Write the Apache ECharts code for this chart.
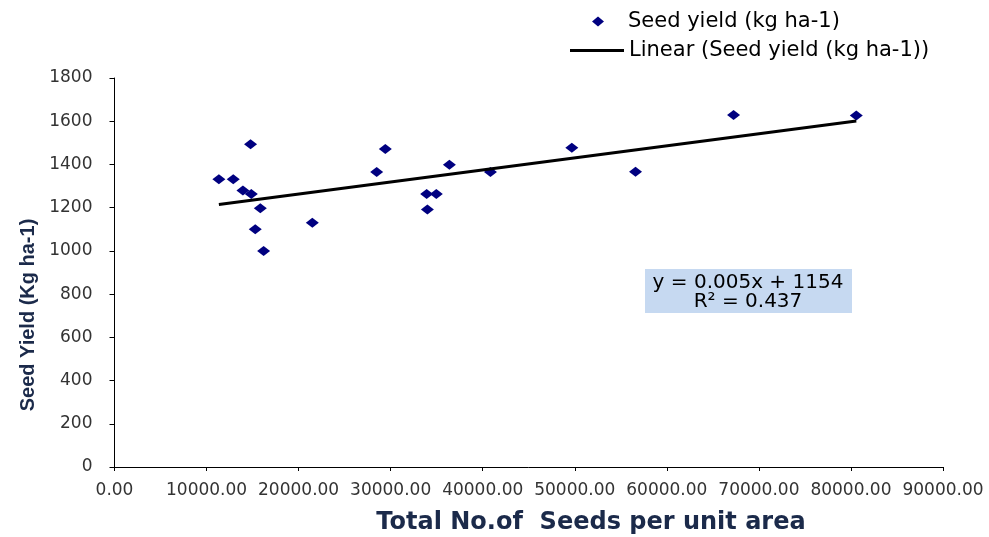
<!DOCTYPE html>
<html>
<head>
<meta charset="utf-8">
<script src="https://cdn.jsdelivr.net/npm/echarts@6/dist/echarts.min.js"></script>
<style>html,body{margin:0;padding:0;background:#fff}#c{width:989px;height:537px}</style>
</head>
<body>
<div id="c"></div>
<script>
// Data
const seedsPerArea = [11340, 12900, 13950, 14860, 14780, 15840, 15290, 16200, 21490, 28480, 29420, 33910, 33990, 34960, 36380, 40840, 49680, 56600, 67250, 80580];
const seedYield    = [1331, 1331, 1279, 1263, 1494, 1197, 1100, 1000, 1130, 1365, 1471, 1263, 1191, 1263, 1399, 1365, 1477, 1366, 1629, 1626];
const xTicks = { min: 0, max: 90000, interval: 10000 };
const yTicks = { min: 0, max: 1800, interval: 200 };
const seriesName = 'Seed yield (kg ha-1)';
const trendName = 'Linear (Seed yield (kg ha-1))';
const equationLines = ['y = 0.005x + 1154', 'R² = 0.437'];

// least-squares linear trend (as the spreadsheet trendline)
const n = seedsPerArea.length;
const mx = seedsPerArea.reduce((a, b) => a + b, 0) / n;
const my = seedYield.reduce((a, b) => a + b, 0) / n;
let sxy = 0, sxx = 0;
for (let i = 0; i < n; i++) { sxy += (seedsPerArea[i] - mx) * (seedYield[i] - my); sxx += (seedsPerArea[i] - mx) ** 2; }
const slope = sxy / sxx, icpt = my - slope * mx;
const xmin = Math.min(...seedsPerArea), xmax = Math.max(...seedsPerArea);
const trend = [[xmin, icpt + slope * xmin], [xmax, icpt + slope * xmax]];

const chart = echarts.init(document.getElementById('c'), null, { renderer: 'canvas' });
const tickFont = { fontFamily: 'DejaVu Sans', fontSize: 17, color: '#333' };
chart.setOption({
  animation: false,
  backgroundColor: '#fff',
  grid: { left: 114.5, right: 46, top: 78, bottom: 70 },
  xAxis: {
    type: 'value', min: xTicks.min, max: xTicks.max, interval: xTicks.interval,
    axisLine: { show: true, onZero: false, lineStyle: { color: '#000', width: 1 } },
    axisTick: { show: true, length: 4, lineStyle: { color: '#000' } },
    splitLine: { show: false },
    axisLabel: Object.assign({ margin: 15, formatter: v => v.toFixed(2), showMinLabel: true, showMaxLabel: true }, tickFont)
  },
  yAxis: {
    type: 'value', min: yTicks.min, max: yTicks.max, interval: yTicks.interval,
    axisLine: { show: true, lineStyle: { color: '#000', width: 1 } },
    axisTick: { show: true, length: 5, lineStyle: { color: '#000' } },
    splitLine: { show: false },
    axisLabel: Object.assign({ margin: 22, formatter: v => String(v) }, tickFont)
  },
  legend: [
    { data: [seriesName], left: 587, top: 6, orient: 'vertical', itemWidth: 12, itemHeight: 10,
      textStyle: { fontFamily: 'DejaVu Sans', fontSize: 21, color: '#000', padding: [0, 0, 0, 19] } },
    { data: [{ name: trendName, icon: 'rect' }], left: 565, top: 35, orient: 'vertical', itemWidth: 54, itemHeight: 3,
      itemStyle: { color: '#000' },
      textStyle: { fontFamily: 'DejaVu Sans', fontSize: 21, color: '#000' } }
  ],
  series: [
    { name: seriesName, type: 'scatter', symbol: 'diamond', symbolSize: [13, 10],
      itemStyle: { color: '#000080', opacity: 1 }, data: seedsPerArea.map((x, i) => [x, seedYield[i]]), z: 2 },
    { name: trendName, type: 'line', symbol: 'none', data: trend,
      lineStyle: { color: '#000', width: 3 }, itemStyle: { color: '#000' }, z: 3 }
  ],
  graphic: [
    { type: 'rect', shape: { x: 645, y: 269, width: 207, height: 44 }, style: { fill: '#c6d9f1' }, z: 10 },
    { type: 'text', x: 748, y: 283, z: 11, style: { text: equationLines[0], fontFamily: 'DejaVu Sans', fontSize: 20, fill: '#000', align: 'center', verticalAlign: 'middle' } },
    { type: 'text', x: 748, y: 302, z: 11, style: { text: equationLines[1], fontFamily: 'DejaVu Sans', fontSize: 20, fill: '#000', align: 'center', verticalAlign: 'middle' } },
    { type: 'text', x: 28, y: 315, rotation: Math.PI / 2, z: 11, style: { text: 'Seed Yield (Kg ha-1)', fontFamily: 'Liberation Sans', fontWeight: 'bold', fontSize: 20, fill: '#1b2a4a', align: 'center', verticalAlign: 'middle' } },
    { type: 'text', x: 591, y: 523, z: 11, style: { text: 'Total No.of  Seeds per unit area', fontFamily: 'DejaVu Sans', fontWeight: 'bold', fontSize: 24, fill: '#1b2a4a', align: 'center', verticalAlign: 'middle' } }
  ]
});
</script>
</body>
</html>
